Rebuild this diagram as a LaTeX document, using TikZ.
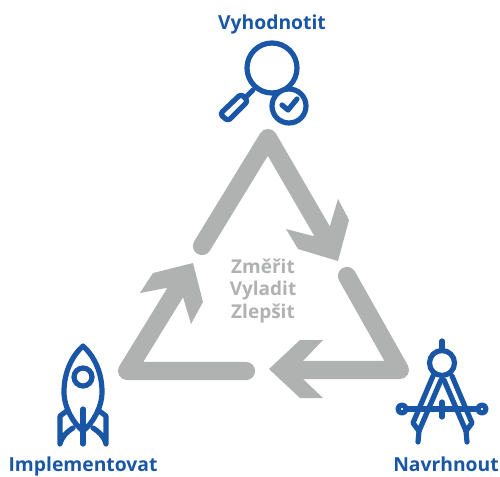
\documentclass[tikz,border=0pt]{standalone}
\usepackage{fontspec}
\setmainfont{Open Sans}
\definecolor{gr}{HTML}{B0B1B1}
\definecolor{bl}{HTML}{1A56A6}
\tikzset{
 x=1pt,y=-1pt,
 shaft/.style={draw=gr,line width=18.2pt,line cap=round,line join=round},
 head/.style={fill=gr,draw=none},
 icon/.style={draw=bl,line width=5.2pt,line cap=round,line join=round},
 lab/.style={text=bl,font=\bfseries\fontsize{19.3}{20}\selectfont,inner sep=0pt,anchor=base},
 mid/.style={text=gr,font=\bfseries\fontsize{19}{22.5}\selectfont,align=center,inner sep=0pt}
}
\begin{document}
\begin{tikzpicture}
\useasboundingbox (0,0) rectangle (500,476);
\fill[white] (0,0) rectangle (500,476);
% grey arrows
\draw[shaft] (202,246) -- (268,138) -- (326,238);
\fill[head] (286,229) -- (313,236) -- (330,226) -- (338,199) -- (349,220) -- (338,261) -- (298,249) -- cycle;
\draw[shaft] (246,371) -- (127,371) -- (178,288);
\fill[head] (193,263) -- (203,302) -- (191,324) -- (183,297) -- (166,288) -- (140,293) -- (153,273) -- cycle;
\draw[shaft] (347,276) -- (400,370) -- (295,370);
\fill[head] (269,369) -- (300,340) -- (323,340) -- (303,361) -- (303,379) -- (323,398) -- (300,398) -- cycle;
\node[mid] (t) at (263,291) {Změřit\\Vyladit\\Zlepšit};
% magnifier
\draw[icon] (272,68) circle (25);
\draw[icon] (253,90) -- (245,98);
\draw[icon,rounded corners=3pt] (241,94) -- (248,101) -- (228,121) -- (220,114) -- cycle;
\draw[icon,fill=white] (289,106) circle (17);
\draw[icon] (282,105) -- (288,110) -- (297,99);
% rocket
\draw[icon] (83,346) .. controls (72,356) and (64,372) .. (64,392) .. controls (64,408) and (74,424) .. (83,431) .. controls (92,424) and (102,408) .. (102,392) .. controls (102,372) and (94,356) .. (83,346) -- cycle;
\draw[icon] (83,377) circle (9);
\draw[icon] (83,409) -- (83,444);
\draw[icon] (68,410) -- (60,416) -- (60,444) .. controls (62,436) and (68,431) .. (73,428);
\draw[icon] (98,410) -- (106,416) -- (106,444) .. controls (104,436) and (98,431) .. (93,428);
% compass
\draw[icon] (442,341) -- (442,350);
\draw[icon] (442,363) circle (12.5);
\draw[icon] (433,376) -- (413,423) -- (419,431) -- (441,380);
\draw[icon] (452,376) -- (472,423) -- (466,431) -- (444,380);
\draw[icon] (419,431) -- (418,442);
\draw[icon] (466,431) -- (467,442);
\draw[icon] (406,409) -- (478,409);
\draw[icon] (402,409) circle (4);
\draw[icon] (482,409) circle (4);
\draw[icon] (442,402) -- (442,417);
% labels
\node[lab] (v) at (272,30) {Vyhodnotit};
\node[lab] (i) at (83,471) {Implementovat};
\node[lab] (n) at (446,471) {Navrhnout};
\end{tikzpicture}
\end{document}
